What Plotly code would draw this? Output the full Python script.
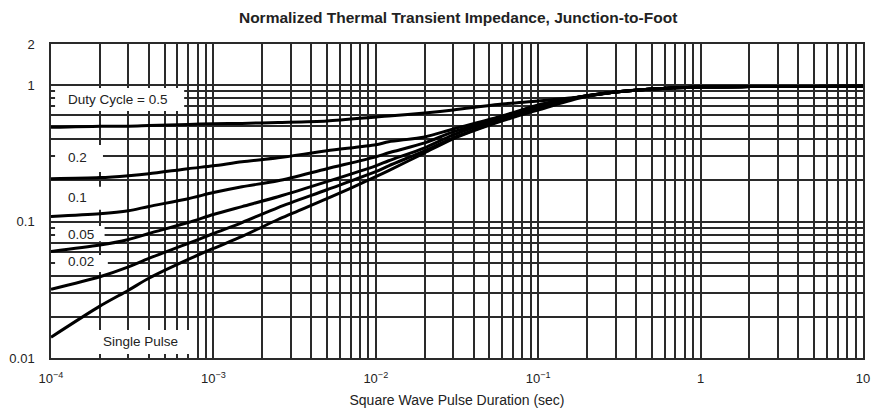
import plotly.graph_objects as go

# ---------------- data ----------------
duration = [1e-4, 2e-4, 3e-4, 4e-4, 7e-4, 1e-3, 1.5e-3, 2.5e-3, 5e-3, 1e-2, 1.2e-2,
            2e-2, 3e-2, 6e-2, 0.1, 0.18, 0.3, 0.5, 1, 2, 5, 10]

duty_0_5 = [0.490, 0.500, 0.500, 0.505, 0.515, 0.520, 0.524, 0.532, 0.546, 0.584, 0.594,
            0.625, 0.657, 0.727, 0.764, 0.817, 0.889, 0.935, 0.967, 0.975, 0.978, 0.980]
duty_0_2 = [0.206, 0.210, 0.217, 0.224, 0.244, 0.256, 0.274, 0.293, 0.330, 0.365, 0.384,
            0.417, 0.477, 0.594, 0.715, 0.817, 0.889, 0.935, 0.967, 0.975, 0.978, 0.980]
duty_0_1 = [0.109, 0.114, 0.120, 0.129, 0.147, 0.163, 0.180, 0.199, 0.244, 0.298, 0.319,
            0.377, 0.454, 0.584, 0.703, 0.817, 0.889, 0.935, 0.967, 0.975, 0.978, 0.980]
duty_0_05 = [0.0604, 0.0672, 0.0739, 0.0817, 0.0983, 0.1125, 0.1287, 0.152, 0.196, 0.256, 0.279,
             0.347, 0.432, 0.574, 0.691, 0.817, 0.889, 0.935, 0.967, 0.975, 0.978, 0.980]
duty_0_02 = [0.0319, 0.0394, 0.0465, 0.0537, 0.0691, 0.0817, 0.0983, 0.1265, 0.171, 0.232, 0.256,
             0.330, 0.410, 0.555, 0.679, 0.817, 0.889, 0.935, 0.967, 0.975, 0.978, 0.980]
single_pulse = [0.0142, 0.0240, 0.0314, 0.0384, 0.0528, 0.0635, 0.0777, 0.1035, 0.147, 0.213, 0.236,
                0.319, 0.404, 0.546, 0.657, 0.804, 0.889, 0.935, 0.967, 0.975, 0.978, 0.980]

series = [duty_0_5, duty_0_2, duty_0_1, duty_0_05, duty_0_02, single_pulse]
series_labels = ["Duty Cycle = 0.5", "0.2", "0.1", "0.05", "0.02", "Single Pulse"]

x_tick_vals = [1e-4, 1e-3, 1e-2, 1e-1, 1, 10]
x_tick_text = ["10<sup>−4</sup>", "10<sup>−3</sup>", "10<sup>−2</sup>", "10<sup>−1</sup>", "1", "10"]
y_tick_vals = [0.01, 0.1, 1, 2]
y_tick_text = ["0.01", "0.1", "1", "2"]

title_text = "Normalized Thermal Transient Impedance, Junction-to-Foot"
x_title = "Square Wave Pulse Duration (sec)"

# minor grid positions (2..9 of every decade)
x_minor = [k * 10.0 ** e for e in range(-4, 1) for k in range(2, 10)]
y_minor = [k * 10.0 ** e for e in range(-2, 0) for k in range(2, 10)]

# ---------------- styling ----------------
FONT = "Liberation Sans, Arial, sans-serif"
GRID = "#2a2a2a"

fig = go.Figure()
for vals, name in zip(series, series_labels):
    fig.add_trace(go.Scatter(
        x=duration, y=vals, mode="lines", name=name,
        line=dict(color="black", width=3, shape="spline", smoothing=0.8),
        showlegend=False, hoverinfo="x+y+name"))

# label boxes (paper coords) – white boxes that hide the grid behind the labels
boxes = [  # x0, x1, y0, y1, text x, text y, anchor
    (0.005, 0.164, 0.787, 0.860, 0.018, 0.823, "left"),
    (0.005, 0.064, 0.592, 0.678, 0.018, 0.640, "left"),
    (0.005, 0.066, 0.472, 0.545, 0.018, 0.510, "left"),
    (0.005, 0.066, 0.372, 0.420, 0.018, 0.392, "left"),
    (0.005, 0.070, 0.274, 0.328, 0.018, 0.306, "left"),
    (0.055, 0.174, 0.013, 0.089, 0.110, 0.054, "center"),
]
for (x0, x1, y0, y1, tx, ty, anc), label in zip(boxes, series_labels):
    fig.add_shape(type="rect", xref="paper", yref="paper", x0=x0, x1=x1, y0=y0, y1=y1,
                  fillcolor="white", line=dict(width=0), layer="above")
    fig.add_annotation(xref="paper", yref="paper", x=tx, y=ty, text=label,
                       showarrow=False, xanchor=anc, yanchor="middle",
                       font=dict(family=FONT, size=13.5, color="#222"))

axis_common = dict(
    type="log", showgrid=True, gridcolor=GRID, gridwidth=1.5,
    showline=True, linecolor=GRID, linewidth=1.5, mirror=True,
    zeroline=False, ticks="", automargin=False,
    tickfont=dict(family=FONT, size=13, color="#222"),
)

fig.update_xaxes(
    **axis_common, range=[-4, 1], tickmode="array", tickvals=x_tick_vals, ticktext=x_tick_text,
    minor=dict(tickmode="array", tickvals=x_minor, showgrid=True, gridcolor=GRID, gridwidth=1.5, ticks=""),
    ticklabelstandoff=8,
    title=dict(text=x_title, font=dict(family=FONT, size=14, color="#222"), standoff=10),
)
fig.update_yaxes(
    **axis_common, range=[-2, 0.30103], tickmode="array", tickvals=y_tick_vals, ticktext=y_tick_text,
    minor=dict(tickmode="array", tickvals=y_minor, showgrid=True, gridcolor=GRID, gridwidth=1.5, ticks=""),
    ticklabelstandoff=12,
)

fig.update_layout(
    width=876, height=412,
    margin=dict(l=51, r=13, t=44, b=54, autoexpand=False),
    paper_bgcolor="white", plot_bgcolor="white",
    title=dict(text="<b>" + title_text + "</b>", x=0.523, xanchor="center", y=0.958, yanchor="middle",
               font=dict(family=FONT, size=15.5, color="#222")),
)

fig.write_html("out.html", config={"displayModeBar": False},
               post_script="document.body.style.margin='0';document.body.style.padding='0';")
